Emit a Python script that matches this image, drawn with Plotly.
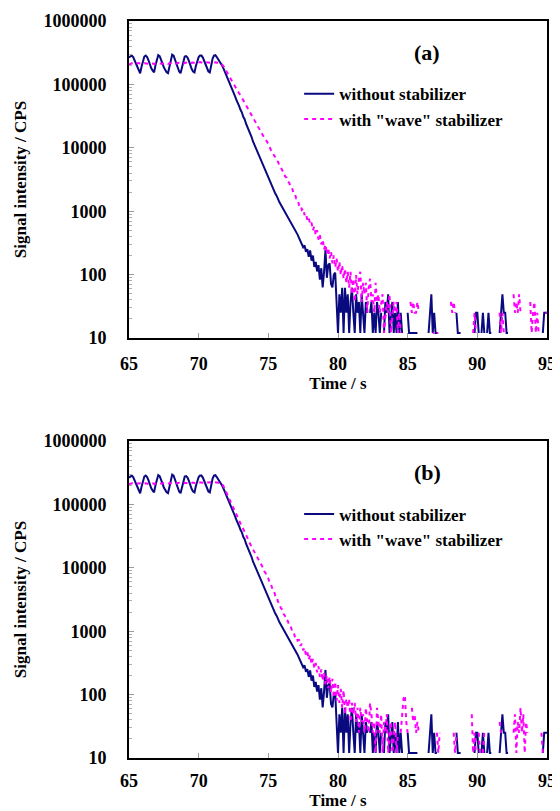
import plotly.graph_objects as go
from plotly.subplots import make_subplots

# acquisition grid: 65.0 ... 95.0 s, every 0.1 s
time_s = [round(65 + 0.1 * i, 1) for i in range(301)]

# signal without stabilizer (CPS), same run shown in (a) and (b); None = zero counts
without_stab = [
    265000, 280000, 285000, 270000, 240000, 210000, 185000, 165000, 150000, 190000,  # 65
    240000, 275000, 285000, 270000, 240000, 205000, 180000, 165000, 155000, 200000,  # 66
    255000, 290000, 280000, 250000, 215000, 185000, 165000, 155000, 150000, 195000,  # 67
    250000, 295000, 285000, 250000, 210000, 180000, 160000, 150000, 190000, 245000,  # 68
    275000, 280000, 265000, 235000, 200000, 175000, 160000, 155000, 195000, 240000,  # 69
    270000, 285000, 285000, 265000, 230000, 200000, 175000, 160000, 155000, 205000,  # 70
    255000, 285000, 290000, 270000, 250000, 234000, 214000, 195000, 174000, 155000,  # 71
    138000, 123000, 110000, 98000, 85000, 76000, 66000, 57500, 52500, 45700,  # 72
    39800, 36300, 30900, 28200, 24000, 21400, 19100, 16200, 14800, 12600,  # 73
    11200, 9800, 8700, 7600, 6600, 6000, 5250, 4900, 4170, 3800,  # 74
    3300, 3090, 2630, 2400, 2140, 1900, 1740, 1510, 1380, 1260,  # 75
    1150, 1070, 955, 890, 795, 760, 676, 630, 550, 525,  # 76
    457, 427, 380, 340, 316, 270, 288, 229, 251, 190,  # 77
    240, 166, 200, 132, 158, 112, 141, 83, 126, 63,  # 78
    112, 245, 89, 141, 150, 71, 63, 100, 107, 37,  # 79
    12, 49, 25, 62, 12, 62, 25, 49, 12, 37,  # 80
    62, 25, 12, 49, 25, 37, 12, 49, 25, 12,  # 81
    37, 25, None, 25, 37, 12, 25, 12, 37, 25,  # 82
    12, 25, None, 12, 37, 25, 49, 12, 25, 37,  # 83
    12, 25, 12, 37, 12, 25, 12, None, None, None,  # 84
    25, 12, 12, 12, 12, 12, 12, 12, None, None,  # 85
    None, None, None, None, None, 12, 25, 49, 12, 25,  # 86
    12, 12, None, None, None, None, None, None, None, None,  # 87
    None, None, None, None, None, 25, 12, 12, 12, None,  # 88
    None, None, None, None, None, None, None, None, 12, 25,  # 89
    25, 12, None, 12, 25, 12, None, 12, 25, 12,  # 90
    12, None, None, None, None, None, 12, 25, 49, 25,  # 91
    25, 12, 12, None, None, None, None, None, None, None,  # 92
    None, None, None, None, None, None, None, None, None, None,  # 93
    None, None, None, None, None, None, None, 12, 25, 25,  # 94
    25,  # 95
]

# signal with "wave" stabilizer, panel (a)
wave_stab_a = [
    205000, 210000, 215000, 212000, 208000, 210000, 215000, 218000, 214000, 210000,  # 65
    212000, 216000, 214000, 210000, 211000, 215000, 217000, 213000, 210000, 212000,  # 66
    215000, 218000, 214000, 210000, 212000, 216000, 218000, 215000, 211000, 213000,  # 67
    217000, 219000, 215000, 211000, 213000, 217000, 220000, 216000, 212000, 214000,  # 68
    218000, 221000, 217000, 213000, 215000, 219000, 222000, 218000, 214000, 217000,  # 69
    221000, 225000, 222000, 218000, 220000, 224000, 226000, 222000, 219000, 221000,  # 70
    225000, 227000, 223000, 220000, 222000, 218000, 213800, 204200, 190500, 173800,  # 71
    158500, 144500, 131800, 120200, 109600, 100000, 93300, 85100, 79400, 72400,  # 72
    67600, 61700, 56200, 51300, 47900, 43600, 39800, 37200, 33900, 30900,  # 73
    28200, 25700, 23400, 21400, 19100, 17800, 15800, 14800, 13200, 12600,  # 74
    11000, 10200, 9100, 8700, 7600, 7100, 6300, 6000, 5200, 4900,  # 75
    4400, 4200, 3550, 3400, 2950, 2800, 2400, 2340, 1950, 1900,  # 76
    1580, 1550, 1260, 1290, 1050, 1100, 870, 930, 720, 790,  # 77
    620, 660, 500, 575, 420, 500, 355, 420, 300, 355,  # 78
    250, 300, 210, 265, 180, 230, 150, 200, 130, 178,  # 79
    111, 160, 98, 141, 86, 123, 74, 111, 62, 111,  # 80
    49, 86, 37, 98, 49, 86, 111, 37, 74, 49,  # 81
    74, 25, 62, 86, 37, 49, 25, 74, 37, 49,  # 82
    25, 37, 49, 12, 25, 37, 25, 49, 12, 25,  # 83
    37, 25, 37, 12, 25, 12, None, None, None, None,  # 84
    None, None, 37, 25, 37, 25, 25, 37, 25, None,  # 85
    None, None, None, None, None, None, None, None, 12, 12,  # 86
    None, 12, 12, None, None, None, None, None, None, None,  # 87
    None, 37, 25, 37, 25, None, None, None, None, None,  # 88
    None, None, None, None, None, None, None, 12, 25, 12,  # 89
    None, None, None, None, None, None, None, None, None, None,  # 90
    None, None, None, None, None, None, 25, 12, 25, 12,  # 91
    None, None, None, None, None, None, 49, 25, 37, 25,  # 92
    49, 25, None, None, None, None, None, None, 37, 12,  # 93
    25, 37, 12, 25, 12, None, None, None, None, 25,  # 94
    25,  # 95
]

# signal with "wave" stabilizer, panel (b)
wave_stab_b = [
    208000, 212000, 216000, 213000, 209000, 211000, 214000, 217000, 215000, 211000,  # 65
    210000, 214000, 216000, 212000, 210000, 213000, 217000, 215000, 211000, 213000,  # 66
    216000, 217000, 213000, 211000, 214000, 217000, 219000, 214000, 212000, 215000,  # 67
    218000, 218000, 214000, 212000, 215000, 218000, 219000, 215000, 213000, 216000,  # 68
    219000, 220000, 216000, 214000, 217000, 220000, 221000, 217000, 215000, 218000,  # 69
    222000, 224000, 221000, 219000, 222000, 225000, 224000, 221000, 220000, 223000,  # 70
    226000, 226000, 222000, 221000, 220000, 217000, 213800, 208900, 190500, 169800,  # 71
    151400, 134900, 120200, 107200, 95500, 87100, 77600, 69200, 63100, 56200,  # 72
    50100, 45700, 40700, 36300, 33100, 29500, 26900, 24000, 21400, 19500,  # 73
    17800, 15800, 14800, 13500, 12600, 11000, 10200, 8900, 8300, 7200,  # 74
    6800, 5750, 5400, 4600, 4400, 3600, 3500, 2900, 2750, 2300,  # 75
    2200, 1860, 1740, 1480, 1450, 1230, 1200, 1020, 1000, 830,  # 76
    850, 710, 725, 590, 630, 500, 550, 420, 470, 355,  # 77
    420, 300, 365, 265, 315, 225, 280, 190, 250, 165,  # 78
    225, 145, 200, 126, 190, 107, 178, 89, 160, 80,  # 79
    141, 74, 123, 62, 117, 49, 86, 62, 86, 37,  # 80
    74, 49, 74, 37, 62, 25, 62, 37, 49, 25,  # 81
    62, 37, 25, 74, 49, 25, 37, 12, 62, 37,  # 82
    25, 49, 12, 37, 25, 49, 12, 25, 37, 12,  # 83
    25, 37, 12, 25, None, 25, 49, 86, 98, 37,  # 84
    25, None, None, 62, 37, 49, 25, 37, 25, None,  # 85
    None, 25, None, None, None, None, None, None, None, None,  # 86
    None, 25, 12, 25, None, None, None, None, None, None,  # 87
    None, None, None, 25, 12, 25, None, None, None, None,  # 88
    None, None, None, None, None, None, 49, 12, 25, 12,  # 89
    None, 25, 12, None, 12, 25, None, None, None, None,  # 90
    None, None, None, None, None, None, 37, 25, None, None,  # 91
    None, None, None, None, None, None, 25, 49, 12, 37,  # 92
    25, 62, 25, 49, 12, 37, 25, None, None, None,  # 93
    None, None, None, None, None, None, 25, 12, None, None,  # 94
    None,  # 95
]

y_tickvals = [10, 100, 1000, 10000, 100000, 1000000]
y_ticktext = ["10", "100", "1000", "10000", "100000", "1000000"]
panel_labels = ["(a)", "(b)"]

assert len(without_stab) == len(wave_stab_a) == len(wave_stab_b) == len(time_s)

serif = "Liberation Serif, Times New Roman, serif"
navy = "#0a0a80"
magenta = "#ff00ff"

fig = make_subplots(rows=2, cols=1)

for row, wave in [(1, wave_stab_a), (2, wave_stab_b)]:
    leg = "legend" if row == 1 else "legend2"
    fig.add_trace(go.Scatter(
        x=time_s, y=without_stab, mode="lines", name="without stabilizer",
        line=dict(color=navy, width=2), legend=leg,
    ), row=row, col=1)
    fig.add_trace(go.Scatter(
        x=time_s, y=wave, mode="lines", name='with "wave" stabilizer',
        line=dict(color=magenta, width=2, dash="4px,4px"), legend=leg,
    ), row=row, col=1)

tickfont = dict(family=serif, size=18, color="black", weight="bold")
titlefont = dict(family=serif, size=17, color="black", weight="bold")
legfont = dict(family=serif, size=17, color="black", weight="bold")

fig.update_xaxes(
    range=[65, 95], tick0=65, dtick=5, automargin=False,
    ticks="inside", ticklen=5, tickcolor="#9a9a9a", ticklabelstandoff=8,
    showline=True, linecolor="black", linewidth=2, mirror=True,
    showgrid=False, zeroline=False, tickfont=tickfont,
    title=dict(text="Time / s", font=titlefont, standoff=0),
)
# lower panel sits against the page bottom, keep its labels a little tighter
fig.update_xaxes(ticklabelstandoff=5, row=2, col=1)
fig.update_yaxes(
    type="log", range=[1, 6], tickvals=y_tickvals, ticktext=y_ticktext, automargin=False,
    ticks="inside", ticklen=5, tickcolor="#9a9a9a", ticklabelstandoff=17,
    minor=dict(ticks="inside", ticklen=3, tickcolor="#b0b0b0", dtick="D1", showgrid=False),
    showline=True, linecolor="black", linewidth=2, mirror=True,
    showgrid=False, zeroline=False, tickfont=tickfont,
    title=dict(text="Signal intensity / CPS", font=dict(family=serif, size=17, color="black", weight="bold"), standoff=12),
)

# page body keeps its default 8px margin, so the figure is 8px smaller than the window
fig.update_layout(
    width=552, height=803,
    margin=dict(l=121, r=13, t=13, b=53),
    paper_bgcolor="white", plot_bgcolor="white",
    yaxis=dict(domain=[0.5699, 1]),
    yaxis2=dict(domain=[0, 0.4301]),
    legend=dict(x=0.407, y=0.925, xanchor="left", yanchor="top",
                bgcolor="rgba(0,0,0,0)", font=legfont),
    legend2=dict(x=0.407, y=0.355, xanchor="left", yanchor="top",
                 bgcolor="rgba(0,0,0,0)", font=legfont),
)

for i, lab in enumerate(panel_labels):
    sfx = "" if i == 0 else "2"
    fig.add_annotation(
        text=lab, x=0.713, y=0.90, xref=f"x{sfx} domain", yref=f"y{sfx} domain",
        xanchor="center", yanchor="middle", showarrow=False,
        font=dict(family=serif, size=22, color="black", weight="bold"),
    )

fig.write_html("out.html")
